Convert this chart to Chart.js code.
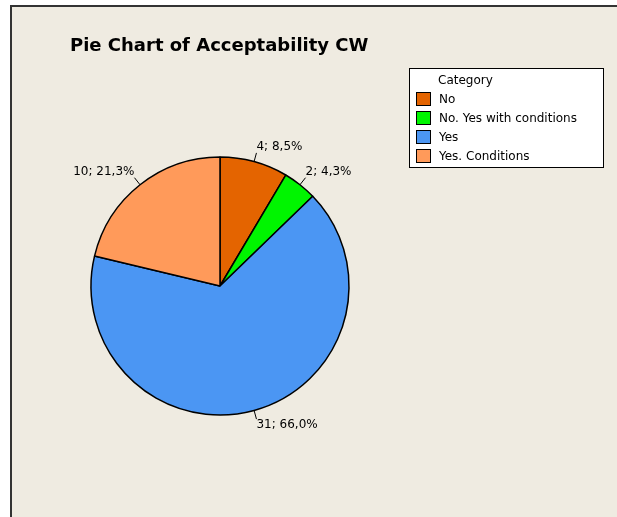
<!DOCTYPE html>
<html>
<head>
<meta charset="utf-8">
<script src="https://cdn.jsdelivr.net/npm/chart.js@4/dist/chart.umd.min.js"></script>
<style>
  html, body { margin: 0; padding: 0; background: #fff; }
  canvas { display: block; }
</style>
</head>
<body>
<canvas id="pieChart" width="617" height="517"></canvas>
<script>
// Data
const categories = ['No', 'No. Yes with conditions', 'Yes', 'Yes. Conditions'];
const counts = [4, 2, 31, 10];
const sliceColors = ['#E46400', '#00F500', '#4B96F3', '#FF9A5A'];
const chartTitle = 'Pie Chart of Acceptability CW';
const legendTitle = 'Category';

const total = counts.reduce((a, b) => a + b, 0);
const labelFont = '12px "DejaVu Sans", sans-serif';

// frame, title and legend box in Minitab style
const framePlugin = {
    id: 'frame',
    beforeDraw(chart) {
        const ctx = chart.ctx;
        ctx.save();
        ctx.fillStyle = '#fff';
        ctx.fillRect(0, 0, chart.width, chart.height);
        ctx.fillStyle = '#EFEBE1';
        ctx.fillRect(10, 5, chart.width - 10, chart.height - 5);
        ctx.strokeStyle = '#333';
        ctx.lineWidth = 2;
        ctx.beginPath();
        ctx.moveTo(11, chart.height);
        ctx.lineTo(11, 6);
        ctx.lineTo(chart.width, 6);
        ctx.stroke();

        ctx.fillStyle = '#000';
        ctx.font = 'bold 18px "DejaVu Sans", sans-serif';
        ctx.textBaseline = 'alphabetic';
        ctx.textAlign = 'left';
        ctx.fillText(chartTitle, 70, 51);
        ctx.restore();
    },
    afterDraw(chart) {
        const ctx = chart.ctx;
        ctx.save();
        ctx.fillStyle = '#fff';
        ctx.fillRect(409, 68, 195, 100);
        ctx.strokeStyle = '#000';
        ctx.lineWidth = 1;
        ctx.strokeRect(409.5, 68.5, 194, 99);
        ctx.font = labelFont;
        ctx.textBaseline = 'middle';
        ctx.textAlign = 'left';
        ctx.fillStyle = '#000';
        ctx.fillText(legendTitle, 438, 81);
        categories.forEach((c, i) => {
            const y = 99 + i * 19;
            ctx.fillStyle = sliceColors[i];
            ctx.fillRect(416, y - 7, 15, 14);
            ctx.strokeStyle = '#000';
            ctx.strokeRect(416.5, y - 6.5, 14, 13);
            ctx.fillStyle = '#000';
            ctx.fillText(c, 439, y + 0.5);
        });
        ctx.restore();
    }
};

// outside labels "n; p%" with short leader lines
const sliceLabels = {
    id: 'sliceLabels',
    afterDatasetsDraw(chart) {
        const ctx = chart.ctx;
        const meta = chart.getDatasetMeta(0);
        ctx.save();
        ctx.font = labelFont;
        ctx.fillStyle = '#000';
        ctx.strokeStyle = '#000';
        ctx.lineWidth = 1;
        meta.data.forEach((arc, i) => {
            const p = arc.getProps(['x', 'y', 'startAngle', 'endAngle', 'outerRadius'], true);
            const mid = (p.startAngle + p.endAngle) / 2;
            const cx = Math.cos(mid), sy = Math.sin(mid);
            const r = p.outerRadius;
            const x1 = p.x + cx * r, y1 = p.y + sy * r;
            const x2 = p.x + cx * (r + 9), y2 = p.y + sy * (r + 9);
            ctx.beginPath();
            ctx.moveTo(x1, y1);
            ctx.lineTo(x2, y2);
            ctx.stroke();
            const pct = (counts[i] / total * 100).toFixed(1).replace('.', ',');
            ctx.textAlign = cx >= 0 ? 'left' : 'right';
            ctx.textBaseline = sy < 0 ? 'bottom' : 'top';
            ctx.fillText(counts[i] + '; ' + pct + '%', x2, y2);
        });
        ctx.restore();
    }
};

new Chart(document.getElementById('pieChart'), {
    type: 'pie',
    data: {
        labels: categories,
        datasets: [{
            data: counts,
            backgroundColor: sliceColors,
            borderColor: '#000',
            borderWidth: 1.5,
            radius: 129
        }]
    },
    options: {
        responsive: false,
        animation: false,
        layout: { padding: { left: 80, right: 257, top: 146, bottom: 91 } },
        plugins: {
            legend: { display: false },
            title: { display: false },
            tooltip: { enabled: false }
        }
    },
    plugins: [framePlugin, sliceLabels]
});
</script>
</body>
</html>
